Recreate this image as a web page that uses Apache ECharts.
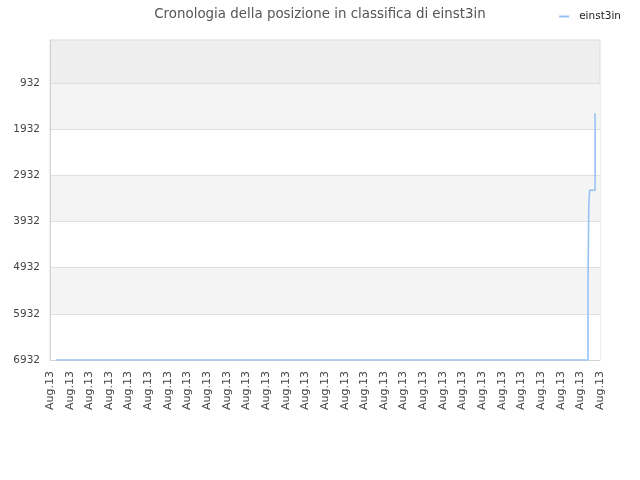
<!DOCTYPE html>
<html>
<head>
<meta charset="utf-8">
<script src="https://cdn.jsdelivr.net/npm/echarts@6/dist/echarts.min.js"></script>
<style>
  html, body { margin: 0; padding: 0; background: #fff; }
  #chart { width: 640px; height: 480px; }
</style>
</head>
<body>
<div id="chart"></div>
<script>
// --------------------------------------------------------------
// Data
// --------------------------------------------------------------

const playerName = "einst3in";
const titleText = "Cronologia della posizione in classifica di einst3in";

// x positions in label units (one unit per "Aug.13" tick)
const timeX = [0.3, 27.39, 27.39, 27.43, 27.43, 27.47, 27.75, 27.75];
// ranking position at each point
const rankY = [6932, 6932, 5311, 5311, 3580, 3255, 3255, 1588];

const xTickLabel = "Aug.13";
const xTickCount = 29;
const yTicks = [932, 1932, 2932, 3932, 4932, 5932, 6932];

// --------------------------------------------------------------
// Chart
// --------------------------------------------------------------

const lineColor = "#96c2f2";
const chart = echarts.init(document.getElementById("chart"), null, {renderer: "canvas"});

const seriesData = timeX.map((x, i) => [x, rankY[i]]);

chart.setOption({
  animation: false,
  title: {
    text: titleText,
    left: "center",
    top: 3,
    textStyle: {fontFamily: "DejaVu Sans", fontSize: 13.4, fontWeight: "normal", color: "#555"},
  },
  legend: {
    data: [playerName],
    right: 14,
    top: 6,
    icon: "rect",
    itemWidth: 10,
    itemHeight: 2,
    itemGap: 10,
    textStyle: {fontFamily: "DejaVu Sans", fontSize: 10.5, color: "#222", padding: [0, 0, 0, 5]},
  },
  grid: {
    left: 50,
    right: 40,
    top: 40,
    bottom: 120,
    show: true,
    backgroundColor: "#eeeeee",
    borderColor: "#dcdcdc",
    borderWidth: 1,
  },
  xAxis: {
    type: "value",
    min: 0,
    max: xTickCount - 1,
    interval: 1,
    axisLine: {show: true, lineStyle: {color: "#d4d4d4"}},
    axisTick: {show: false},
    splitLine: {show: false},
    axisLabel: {
      rotate: 90,
      margin: 11,
      fontFamily: "DejaVu Sans",
      fontSize: 11,
      color: "#444",
      formatter: () => xTickLabel,
    },
  },
  yAxis: {
    type: "value",
    inverse: true,
    min: 1,
    max: 6932,
    axisLine: {show: true, lineStyle: {color: "#d4d4d4"}},
    axisTick: {show: false, customValues: yTicks},
    axisLabel: {
      customValues: yTicks,
      margin: 10,
      fontFamily: "DejaVu Sans",
      fontSize: 10.5,
      color: "#444",
      formatter: (v) => String(v),
    },
    splitLine: {show: true, lineStyle: {color: "#e0e0e0"}},
    splitArea: {show: true, areaStyle: {color: ["#f4f4f4", "#ffffff"]}},
  },
  series: [
    {
      name: playerName,
      type: "line",
      data: seriesData,
      showSymbol: false,
      color: lineColor,
      lineStyle: {color: lineColor, width: 1.6},
    },
  ],
});
</script>
</body>
</html>
